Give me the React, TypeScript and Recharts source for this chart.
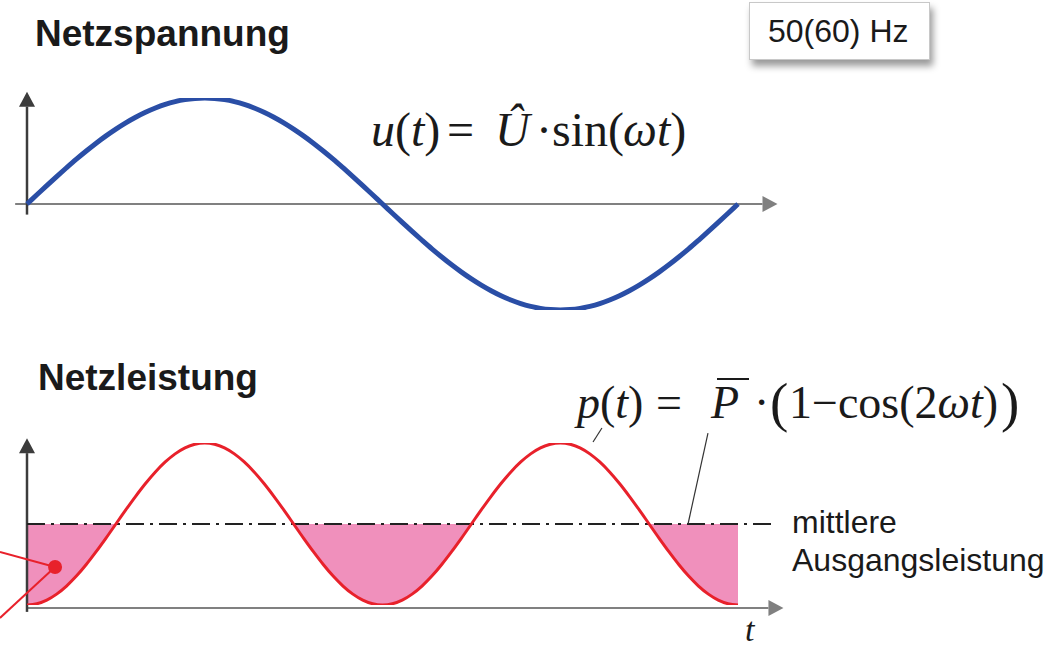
import React from 'react';
import {
  Area,
  ComposedChart,
  Line,
  ReferenceDot,
  ReferenceLine,
  XAxis,
  YAxis,
} from 'recharts';

// Phase angle of ωt in degrees, sampled every 5° over one mains period
const STEP_DEG = 5;

// u(t) / Û over one period (0° … 360°)
const voltage = [
  0, 0.087, 0.174, 0.259, 0.342, 0.423, 0.5, 0.574, 0.643, 0.707, 0.766, 0.819, 0.866,
  0.906, 0.94, 0.966, 0.985, 0.996, 1,
  0.996, 0.985, 0.966, 0.94, 0.906, 0.866, 0.819, 0.766, 0.707, 0.643, 0.574, 0.5,
  0.423, 0.342, 0.259, 0.174, 0.087, 0,
  -0.087, -0.174, -0.259, -0.342, -0.423, -0.5, -0.574, -0.643, -0.707, -0.766, -0.819,
  -0.866, -0.906, -0.94, -0.966, -0.985, -0.996, -1,
  -0.996, -0.985, -0.966, -0.94, -0.906, -0.866, -0.819, -0.766, -0.707, -0.643, -0.574,
  -0.5, -0.423, -0.342, -0.259, -0.174, -0.087, 0,
];

// p(t) / P̄ over the same period (two power pulses)
const power = [
  0, 0.015, 0.06, 0.134, 0.234, 0.357, 0.5, 0.658, 0.826, 1, 1.174, 1.342, 1.5,
  1.643, 1.766, 1.866, 1.94, 1.985, 2,
  1.985, 1.94, 1.866, 1.766, 1.643, 1.5, 1.342, 1.174, 1, 0.826, 0.658, 0.5,
  0.357, 0.234, 0.134, 0.06, 0.015, 0,
  0.015, 0.06, 0.134, 0.234, 0.357, 0.5, 0.658, 0.826, 1, 1.174, 1.342, 1.5,
  1.643, 1.766, 1.866, 1.94, 1.985, 2,
  1.985, 1.94, 1.866, 1.766, 1.643, 1.5, 1.342, 1.174, 1, 0.826, 0.658, 0.5,
  0.357, 0.234, 0.134, 0.06, 0.015, 0,
];

// mean output power P̄ (normalised)
const MEAN_POWER = 1;

const voltageData = voltage.map((u, i) => ({ t: i * STEP_DEG, u }));
const powerData = power.map((p, i) => ({
  t: i * STEP_DEG,
  p,
  gap: [Math.min(p, MEAN_POWER), MEAN_POWER],
}));

const COLORS = {
  text: '#1a1a1a',
  blue: '#2a4ea6',
  red: '#e8212b',
  pink: '#f090bc',
  axisDark: '#3c3c3c',
  axisGray: '#808080',
};

const SANS = "'Liberation Sans', Arial, sans-serif";
const SERIF = "'Liberation Serif', 'Times New Roman', serif";

// line with an arrow head at its end, used as a ReferenceLine shape
const arrowShape = (color: string, width: number) => (props: any) => {
  const { x1, y1, x2, y2 } = props;
  const len = Math.hypot(x2 - x1, y2 - y1) || 1;
  const ux = (x2 - x1) / len;
  const uy = (y2 - y1) / len;
  const head = 15;
  const half = 8;
  const bx = x2 - ux * head;
  const by = y2 - uy * head;
  return (
    <g>
      <line x1={x1} y1={y1} x2={bx} y2={by} stroke={color} strokeWidth={width} />
      <polygon
        points={`${x2},${y2} ${bx - uy * half},${by + ux * half} ${bx + uy * half},${by - ux * half}`}
        fill={color}
      />
    </g>
  );
};

const X_DOMAIN: [number, number] = [-6, 380];

const VoltageChart = () => (
  <ComposedChart
    width={1063}
    height={340}
    data={voltageData}
    margin={{ top: 98, right: 285.5, bottom: 30, left: 15.15 }}
  >
    <XAxis dataKey="t" type="number" domain={X_DOMAIN} hide allowDataOverflow />
    <YAxis type="number" domain={[-1, 1]} hide allowDataOverflow />
    <ReferenceLine
      segment={[{ x: -6, y: 0 }, { x: 380, y: 0 }]}
      ifOverflow="visible"
      shape={arrowShape(COLORS.axisGray, 2)}
    />
    <ReferenceLine
      segment={[{ x: 0, y: -0.1 }, { x: 0, y: 1.06 }]}
      ifOverflow="visible"
      shape={arrowShape(COLORS.axisDark, 2.5)}
    />
    <Line
      dataKey="u"
      type="monotone"
      stroke={COLORS.blue}
      strokeWidth={5}
      dot={false}
      isAnimationActive={false}
    />
  </ComposedChart>
);

const PowerChart = () => (
  <ComposedChart
    width={1063}
    height={309}
    data={powerData}
    margin={{ top: 103, right: 285.5, bottom: 44, left: 15.15 }}
  >
    <XAxis dataKey="t" type="number" domain={X_DOMAIN} hide allowDataOverflow />
    <YAxis type="number" domain={[0, 2]} hide allowDataOverflow />
    <Area
      dataKey="gap"
      type="linear"
      stroke="none"
      fill={COLORS.pink}
      fillOpacity={1}
      isAnimationActive={false}
    />
    <ReferenceLine
      segment={[{ x: 0, y: -0.037 }, { x: 383, y: -0.037 }]}
      ifOverflow="visible"
      shape={arrowShape(COLORS.axisGray, 2)}
    />
    <ReferenceLine
      segment={[{ x: 0, y: -0.085 }, { x: 0, y: 2.06 }]}
      ifOverflow="visible"
      shape={arrowShape(COLORS.axisDark, 2.5)}
    />
    <ReferenceLine
      segment={[{ x: 0, y: MEAN_POWER }, { x: 378.7, y: MEAN_POWER }]}
      ifOverflow="visible"
      stroke="#222"
      strokeWidth={2}
      strokeDasharray="18 6 3 6"
    />
    {/* leader lines from the formula */}
    <ReferenceLine
      segment={[{ x: 291.1, y: 2.185 }, { x: 286.6, y: 2.012 }]}
      ifOverflow="visible"
      stroke="#333"
      strokeWidth={1.2}
    />
    <ReferenceLine
      segment={[{ x: 344.8, y: 2.123 }, { x: 334.7, y: MEAN_POWER }]}
      ifOverflow="visible"
      stroke="#333"
      strokeWidth={1.2}
    />
    {/* red callout into the shaded area */}
    <ReferenceLine
      segment={[{ x: -13.7, y: 0.654 }, { x: 14.2, y: 0.469 }]}
      ifOverflow="visible"
      stroke={COLORS.red}
      strokeWidth={2}
    />
    <ReferenceLine
      segment={[{ x: 14.2, y: 0.469 }, { x: -13.7, y: -0.16 }]}
      ifOverflow="visible"
      stroke={COLORS.red}
      strokeWidth={2}
    />
    <ReferenceDot x={14.2} y={0.469} r={7} fill={COLORS.red} stroke="none" ifOverflow="visible" />
    <Line
      dataKey="p"
      type="monotone"
      stroke={COLORS.red}
      strokeWidth={3}
      dot={false}
      isAnimationActive={false}
    />
  </ComposedChart>
);

const Labels = () => (
  <svg
    width={1063}
    height={649}
    style={{ position: 'absolute', left: 0, top: 0, pointerEvents: 'none' }}
  >
    <text x={35} y={46} fontFamily={SANS} fontWeight="bold" fontSize={37} fill={COLORS.text}>
      Netzspannung
    </text>
    <text x={38} y={390} fontFamily={SANS} fontWeight="bold" fontSize={37} fill={COLORS.text}>
      Netzleistung
    </text>

    <g fontFamily={SERIF} fontSize={48} fill={COLORS.text}>
      <text x={371} y={146}>
        <tspan fontStyle="italic">u</tspan>(<tspan fontStyle="italic">t</tspan>)
      </text>
      <text x={447} y={146}>=</text>
      <text x={495} y={146} fontStyle="italic">Û</text>
      <text x={536} y={146}>·sin(</text>
      <text x={623} y={146}>
        <tspan fontStyle="italic">ω</tspan>
        <tspan fontStyle="italic">t</tspan>)
      </text>
    </g>

    <g fontFamily={SERIF} fontSize={46} fill={COLORS.text}>
      <text x={577} y={418}>
        <tspan fontStyle="italic">p</tspan>(<tspan fontStyle="italic">t</tspan>)
      </text>
      <text x={656} y={418}>=</text>
      <text x={711} y={418} fontStyle="italic">P</text>
      <line x1={717} y1={379} x2={749} y2={379} stroke={COLORS.text} strokeWidth={2} />
      <text x={754} y={418}>·</text>
      <text x={770} y={421} fontSize={55}>(</text>
      <text x={789} y={418}>
        1−cos(2<tspan fontStyle="italic">ω</tspan>
        <tspan fontStyle="italic">t</tspan>)
      </text>
      <text x={1001} y={421} fontSize={55}>)</text>

      <text x={745} y={641} fontSize={34} fontStyle="italic">t</text>
    </g>

    <text x={792} y={533} fontFamily={SANS} fontSize={32} fill={COLORS.text}>
      mittlere
    </text>
    <text x={792} y={571} fontFamily={SANS} fontSize={32} fill={COLORS.text}>
      Ausgangsleistung
    </text>
  </svg>
);

export default function App() {
  return (
    <div
      style={{
        position: 'fixed',
        left: 0,
        top: 0,
        width: 1063,
        height: 649,
        background: '#fff',
        overflow: 'hidden',
      }}
    >
      <div style={{ position: 'absolute', left: 0, top: 0 }}>
        <VoltageChart />
      </div>
      <div style={{ position: 'absolute', left: 0, top: 340 }}>
        <PowerChart />
      </div>
      <Labels />
      <div
        style={{
          position: 'absolute',
          left: 749,
          top: 2,
          width: 161,
          height: 56,
          border: '1px solid #c8c8c8',
          background: '#fff',
          boxShadow: '3px 6px 7px rgba(0,0,0,0.4)',
          fontFamily: SANS,
          fontSize: 32,
          lineHeight: '56px',
          paddingLeft: 18,
          boxSizing: 'content-box',
          color: COLORS.text,
          whiteSpace: 'nowrap',
        }}
      >
        50(60) Hz
      </div>
    </div>
  );
}
